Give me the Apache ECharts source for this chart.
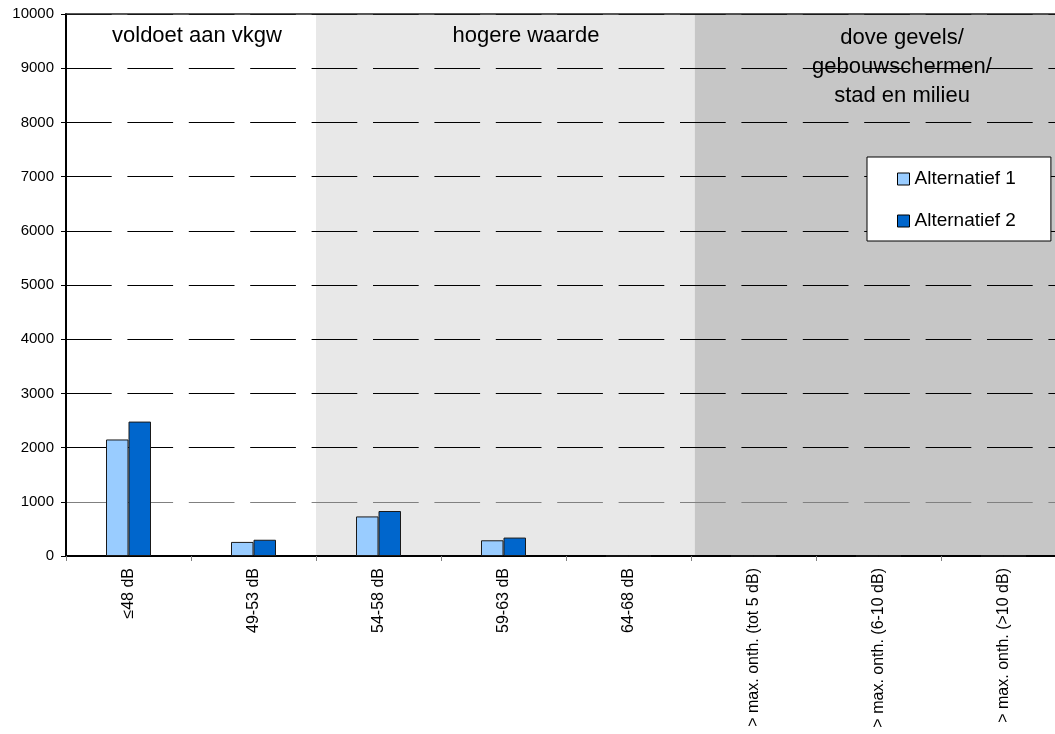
<!DOCTYPE html>
<html>
<head>
<meta charset="utf-8">
<title>Geluidbelasting per klasse</title>
<script src="https://cdn.jsdelivr.net/npm/echarts@6/dist/echarts.min.js"></script>
<style>
  html, body { margin: 0; padding: 0; background: #ffffff; overflow: hidden; }
  /* the plot runs on past the right edge of the window */
  #chart { width: 1066px; height: 734px; }
</style>
</head>
<body>
<div id="chart"></div>
<script>
// Noise classes along the x axis
const categories = ['\u226448 dB', '49-53 dB', '54-58 dB', '59-63 dB', '64-68 dB',
  '> max. onth. (tot 5 dB)', '> max. onth. (6-10 dB)', '> max. onth. (>10 dB)'];

// Number of dwellings per class
const alternatief1 = [2150, 260, 730, 290, 0, 0, 0, 0];
const alternatief2 = [2480, 300, 830, 340, 0, 0, 0, 0];

const seriesNames = ['Alternatief 1', 'Alternatief 2'];

// Background zones, in category units (0..8)
const bandEdges = [0, 2, 5.03, 8];
const bandColors = ['#ffffff', '#e8e8e8', '#c6c6c6'];
const bandTitles = ['voldoet aan vkgw', 'hogere waarde', 'dove gevels/\ngebouwschermen/\nstad en milieu'];

const FONT = '"Liberation Sans", Arial, sans-serif';

const chart = echarts.init(document.getElementById('chart'), null, { renderer: 'canvas' });

const bandAreas = bandColors.map((c, i) => [
  { xAxis: bandEdges[i], yAxis: 0, itemStyle: { color: c } },
  { xAxis: bandEdges[i + 1], yAxis: 10000 }
]);

// grid split line colours: the 1000 line is drawn lighter
const splitColors = ['#000000', '#808080', '#000000', '#000000', '#000000', '#000000',
  '#000000', '#000000', '#000000', '#000000', '#000000'];

const titlePos = [[197, 36], [526, 36], [902, 67]];

chart.setOption({
  animation: false,
  backgroundColor: '#ffffff',
  textStyle: { fontFamily: FONT },
  grid: { left: 66, top: 14, right: 0, height: 542, containLabel: false },
  legend: {
    data: seriesNames,
    orient: 'vertical',
    left: 867,
    top: 157,
    padding: [12, 35, 10, 30],
    itemGap: 22,
    itemWidth: 12,
    itemHeight: 12,
    icon: 'rect',
    backgroundColor: '#ffffff',
    borderColor: '#000000',
    borderWidth: 1,
    borderRadius: 0,
    itemStyle: { borderColor: '#000000', borderWidth: 1 },
    textStyle: { fontFamily: FONT, fontSize: 19, color: '#000000', lineHeight: 20 }
  },
  xAxis: [
    {
      type: 'category',
      data: categories,
      position: 'bottom',
      axisLine: { show: true, lineStyle: { color: '#000000', width: 2 } },
      axisTick: { show: true, length: 5, lineStyle: { color: '#808080', width: 1 } },
      axisLabel: { rotate: 90, margin: 12, fontSize: 16, color: '#000000', fontFamily: FONT, interval: 0 },
      splitLine: { show: false }
    },
    {
      type: 'value',
      min: 0,
      max: 8,
      position: 'top',
      axisLine: { show: true, lineStyle: { color: '#222222', width: 1.5 } },
      axisTick: { show: false },
      axisLabel: { show: false },
      splitLine: { show: false }
    }
  ],
  yAxis: {
    type: 'value',
    min: 0,
    max: 10000,
    interval: 1000,
    axisLine: { show: true, lineStyle: { color: '#000000', width: 2 } },
    axisTick: { show: true, inside: false, length: 5, lineStyle: { color: '#000000', width: 1 } },
    axisLabel: { margin: 12, fontSize: 15, color: '#000000', fontFamily: FONT, formatter: v => String(v) },
    splitLine: {
      show: true,
      lineStyle: { color: splitColors, width: 1, type: [45.7, 15.7] }
    }
  },
  graphic: bandTitles.map((t, i) => ({
    type: 'text',
    x: titlePos[i][0],
    y: titlePos[i][1],
    z: 1,
    style: {
      text: t,
      fill: '#000000',
      font: '22px ' + FONT,
      lineHeight: 29,
      textAlign: 'center',
      textVerticalAlign: 'middle'
    }
  })),
  series: [
    {
      name: 'zones',
      type: 'line',
      xAxisIndex: 1,
      yAxisIndex: 0,
      data: [],
      silent: true,
      markArea: {
        z: -1,
        silent: true,
        data: bandAreas
      }
    },
    {
      name: seriesNames[0],
      type: 'bar',
      data: alternatief1,
      barGap: '0%',
      barCategoryGap: '64%',
      itemStyle: { color: '#99ccff', borderColor: '#1a1a1a', borderWidth: 1 }
    },
    {
      name: seriesNames[1],
      type: 'bar',
      data: alternatief2,
      barGap: '0%',
      barCategoryGap: '64%',
      itemStyle: { color: '#0066cc', borderColor: '#1a1a1a', borderWidth: 1 }
    }
  ]
});
</script>
</body>
</html>
